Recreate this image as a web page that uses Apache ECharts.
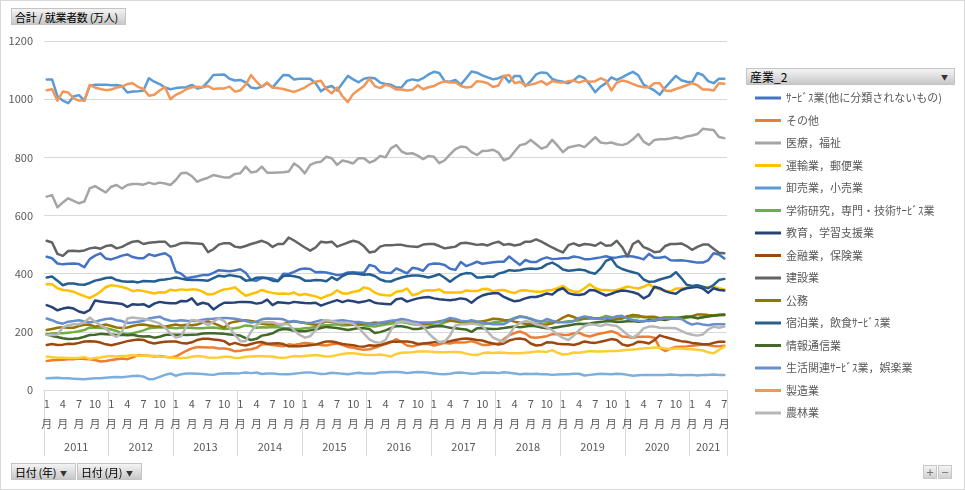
<!DOCTYPE html>
<html><head><meta charset="utf-8">
<script src="https://cdn.jsdelivr.net/npm/echarts@6/dist/echarts.min.js"></script>
<style>
html,body{margin:0;padding:0;background:#fff;}
#wrap{position:relative;width:965px;height:490px;overflow:hidden;font-family:"Noto Sans CJK JP","Noto Sans",sans-serif;}
#chart{position:absolute;left:0;top:0;width:965px;height:490px;}
#frame{position:absolute;left:0;top:0;width:965px;height:490px;box-sizing:border-box;border:1px solid #d9d9d9;pointer-events:none;}
.btn{position:absolute;height:17px;line-height:16px;font-size:11px;color:#000;background:linear-gradient(#f4f4f4,#c8c8c8);border:1px solid #c4c4c4;box-sizing:border-box;padding:0 3px;white-space:nowrap;overflow:hidden;}
.arr{font-size:7px;color:#333;margin-left:4px;vertical-align:1px;}
.pm{position:absolute;width:14px;height:14px;line-height:12px;font-size:13px;text-align:center;color:#777;background:linear-gradient(#f4f4f4,#d0d0d0);border:1px solid #c8c8c8;box-sizing:border-box;}
</style></head>
<body>
<div id="wrap">
<div id="chart"></div>
<div class="btn" style="left:11px;top:8px;width:115px;letter-spacing:-0.3px;">合計 / 就業者数 (万人)</div>
<div class="btn" style="left:746px;top:68px;width:209px;font-size:12px;">産業_2<span class="arr" style="position:absolute;right:6px;top:0;">▼</span></div>
<div class="btn" style="left:11px;top:463px;width:65px;letter-spacing:-0.3px;">日付 (年)<span class="arr">▼</span></div>
<div class="btn" style="left:77px;top:463px;width:65px;letter-spacing:-0.3px;">日付 (月)<span class="arr">▼</span></div>
<div class="pm" style="left:923px;top:465px;">+</div>
<div class="pm" style="left:938px;top:465px;">−</div>
<div id="frame"></div>
</div>
<script>
const yearLabels = ['2011','2012','2013','2014','2015','2016','2017','2018','2019','2020','2021'];
const monthsPerYear = [12,12,12,12,12,12,12,12,12,12,7];
const yAxisTicks = [0,200,400,600,800,1000,1200];

const seriesNames = [
 'ｻｰﾋﾞｽ業(他に分類されないもの)','その他','医療，福祉','運輸業，郵便業','卸売業，小売業',
 '学術研究，専門・技術ｻｰﾋﾞｽ業','教育，学習支援業','金融業，保険業','建設業','公務',
 '宿泊業，飲食ｻｰﾋﾞｽ業','情報通信業','生活関連ｻｰﾋﾞｽ業，娯楽業','製造業','農林業',
 '不動産業，物品賃貸業','複合ｻｰﾋﾞｽ事業'
];
const seriesColors = ['#4472C4','#ED7D31','#A5A5A5','#FFC000','#5B9BD5','#70AD47','#264478','#9E480E','#636363','#997300','#255E91','#43682B','#698ED0','#F1975A','#B7B7B7','#FFCD33','#7CAFDD'];

const service = [
458,453,435,432,434,435,433,422,450,462,470,452,
449,455,462,466,457,453,453,467,461,466,470,458,
407,400,384,388,391,395,395,403,412,410,408,411,
415,403,378,376,385,385,383,376,400,399,406,415,
418,416,405,406,404,400,395,397,404,405,403,403,
430,425,406,403,402,418,410,401,420,417,410,431,
435,434,430,417,413,440,426,433,441,434,437,439,
441,441,459,444,430,447,440,440,450,456,450,451,
453,453,459,456,450,450,453,456,460,455,456,459,
461,459,455,449,468,455,455,458,446,445,446,444,
441,438,438,446,470,466,452];
const other = [
100,102,103,104,106,106,108,107,106,103,98,100,
103,106,108,106,112,120,119,118,115,117,114,112,
115,125,135,143,148,147,146,146,143,143,140,133,
135,138,140,145,157,157,155,152,150,157,155,158,
162,160,157,155,153,157,160,155,148,145,141,138,
140,145,152,158,164,175,165,153,150,155,159,158,
153,157,162,160,164,163,164,168,162,155,155,158,
160,175,188,196,201,194,181,180,182,185,192,192,
190,189,195,197,188,184,190,194,198,202,196,184,
182,180,183,183,183,180,145,134,142,148,149,150,
152,154,156,155,151,150,152];
const medical = [
665,670,628,645,659,650,642,648,693,701,690,679,
699,705,693,705,708,708,706,713,708,713,710,705,
722,745,747,735,716,724,730,739,735,731,731,743,
745,768,748,751,768,747,747,748,749,751,779,766,
745,774,782,785,802,797,774,789,785,779,797,797,
782,789,805,800,831,842,820,812,814,806,794,805,
802,780,790,810,828,837,835,818,808,822,823,826,
816,790,797,820,842,846,860,845,830,837,860,840,
818,834,838,842,835,852,869,851,848,851,845,842,
848,862,880,854,843,860,862,862,865,869,865,872,
875,880,898,896,894,870,866];
const transport = [
364,364,350,344,342,338,330,323,316,326,338,354,
360,358,354,349,340,343,340,336,332,336,335,345,
342,346,344,346,345,338,328,330,339,346,348,353,
338,324,330,335,344,338,334,331,332,330,335,326,
330,326,322,315,323,329,343,332,332,338,340,353,
348,335,328,326,325,338,340,349,326,331,341,343,
342,346,335,335,335,335,342,340,340,347,348,339,
343,344,338,333,342,343,340,338,338,342,344,350,
358,345,338,338,350,364,350,344,344,342,344,349,
356,352,349,355,364,352,346,341,338,349,349,352,
355,360,349,354,355,350,346];
const wholesale = [
1068,1068,1010,995,986,1009,1014,995,1045,1050,1050,1050,
1048,1049,1045,1023,1026,1027,1030,1072,1060,1052,1040,1034,
1038,1040,1041,1049,1037,1041,1060,1083,1084,1085,1070,1064,
1066,1058,1040,1037,1043,1055,1040,1062,1083,1082,1068,1070,
1070,1070,1055,1027,1040,1045,1030,1055,1080,1068,1058,1070,
1074,1072,1057,1052,1050,1040,1041,1063,1068,1064,1072,1085,
1094,1090,1062,1060,1066,1050,1072,1095,1091,1082,1075,1068,
1072,1080,1058,1080,1080,1045,1062,1085,1092,1090,1070,1063,
1060,1055,1065,1080,1072,1050,1024,1043,1055,1075,1066,1075,
1085,1094,1082,1050,1040,1030,1015,1040,1060,1080,1065,1060,
1058,1090,1083,1062,1055,1070,1070];
const research = [
191,194,195,195,197,199,202,206,215,214,213,212,
208,203,195,193,195,200,205,212,214,216,215,214,
212,214,214,213,212,212,214,215,212,210,211,212,
216,222,220,214,216,215,217,216,213,212,210,210,
212,214,217,221,223,224,226,222,223,224,226,222,
220,218,222,225,228,232,234,230,226,224,225,225,
222,224,232,238,236,232,231,233,229,226,228,232,
235,236,240,248,254,250,245,239,236,235,235,233,
234,236,237,240,246,245,247,248,255,250,248,247,
249,252,250,253,248,248,247,250,250,249,248,251,
250,247,250,254,256,258,258];
const education = [
292,285,274,280,284,280,270,265,275,308,304,302,
300,298,296,286,295,293,295,286,297,303,300,298,
298,306,305,315,293,300,296,277,290,300,300,301,
303,303,302,297,300,311,292,302,300,298,303,301,
299,298,300,290,297,303,309,302,308,305,301,304,
309,300,297,296,295,312,315,304,310,315,318,320,
315,312,310,309,311,315,312,300,315,325,330,333,
333,320,312,305,308,315,320,320,325,332,328,343,
350,333,328,327,330,344,342,333,325,331,338,342,
340,336,330,315,325,355,350,340,334,331,344,350,
352,355,349,334,350,344,342];
const finance = [
155,158,155,156,159,158,162,167,168,167,163,157,
154,158,163,168,171,174,172,164,160,163,166,167,
167,162,160,164,172,176,176,174,172,168,156,162,
156,153,158,163,165,159,160,161,158,150,151,150,
152,154,156,162,167,167,163,158,156,154,150,149,
154,152,155,160,166,166,167,167,164,158,160,162,
164,164,166,168,172,175,177,175,172,170,164,160,
156,160,170,175,177,174,160,153,155,164,163,159,
157,157,155,160,167,163,162,166,170,175,172,157,
152,157,166,164,160,172,188,182,177,172,168,166,
162,160,157,157,162,166,166];
const construction = [
513,507,468,461,478,479,477,480,487,490,486,495,
498,487,492,502,510,512,502,506,508,510,510,493,
497,505,506,505,504,502,474,484,500,505,505,493,
490,495,502,507,513,506,492,502,502,524,514,502,
490,479,490,510,507,510,493,500,507,513,508,494,
473,476,493,498,498,499,499,495,493,492,500,502,
502,495,487,490,493,505,506,503,499,501,497,505,
510,499,502,497,500,510,510,518,510,500,490,481,
473,498,504,496,502,500,496,507,496,498,513,491,
459,502,513,491,484,474,476,495,502,502,504,495,
482,492,500,500,486,472,470];
const publicService = [
206,210,214,216,214,214,220,224,225,218,222,225,
220,215,213,215,220,224,225,222,219,218,218,222,
225,222,224,223,225,232,236,230,222,214,230,235,
238,240,237,234,228,225,225,225,226,233,236,233,
230,227,224,229,236,234,233,229,226,224,225,228,
229,232,230,232,236,238,241,236,233,230,228,228,
233,236,238,240,236,233,229,233,234,236,240,245,
244,241,240,235,231,228,228,228,226,225,229,238,
249,257,251,243,246,249,246,246,246,241,243,246,
254,258,256,250,252,252,247,248,247,246,244,249,
254,260,260,258,257,258,258];
const hospitality = [
387,390,376,360,366,366,363,362,368,376,380,385,
387,378,374,372,373,370,375,374,373,378,380,383,
387,383,379,378,378,377,376,385,393,390,395,392,
389,376,378,386,387,384,376,374,392,394,391,387,
376,376,378,377,374,388,378,392,400,401,399,396,
398,392,380,374,373,381,387,391,394,394,391,387,
392,398,386,372,386,397,402,401,387,387,390,389,
400,405,412,410,412,416,418,416,420,432,438,428,
414,410,412,414,412,404,400,418,444,452,426,416,
410,405,400,380,372,373,380,385,390,405,385,362,
358,360,355,350,361,378,382];
const infoComm = [
191,186,182,178,175,176,178,183,189,190,193,192,
191,189,190,188,190,186,184,185,180,183,189,191,
190,190,189,190,191,194,195,195,194,193,191,189,
187,178,172,176,187,190,195,205,210,208,204,202,
202,205,208,213,217,215,213,210,206,210,213,212,
210,196,199,205,213,220,219,216,210,210,213,215,
218,220,218,214,212,210,208,200,212,212,211,210,
211,213,216,218,216,218,221,219,215,212,213,216,
219,222,225,228,227,229,232,234,236,236,234,235,
236,237,235,236,241,238,243,241,245,247,250,253,
252,247,250,253,255,258,260];
const lifestyle = [
246,240,232,228,235,237,240,236,233,235,240,244,
246,240,237,230,232,235,238,246,249,252,243,238,
237,240,238,237,237,242,244,245,247,248,247,245,
242,237,232,235,243,246,245,245,243,235,237,234,
231,230,235,240,237,236,238,240,237,235,234,231,
229,226,231,235,238,240,244,241,236,233,232,232,
232,234,240,248,244,238,236,240,236,232,229,226,
226,226,237,246,252,250,244,237,235,244,238,234,
233,233,237,248,253,249,245,244,249,247,254,255,
245,241,238,237,237,240,244,246,246,246,245,233,
225,229,225,223,226,226,226];
const manufacturing = [
1031,1034,995,1026,1023,1003,995,995,1049,1040,1035,1031,
1033,1040,1043,1052,1055,1042,1035,1012,1015,1030,1042,1000,
1015,1023,1035,1041,1043,1041,1045,1035,1037,1037,1043,1026,
1030,1050,1083,1060,1042,1057,1040,1038,1035,1030,1025,1032,
1040,1052,1060,1063,1035,1020,1040,1010,990,1018,1032,1045,
1070,1045,1038,1050,1044,1033,1033,1030,1032,1048,1034,1041,
1045,1055,1061,1057,1058,1045,1040,1043,1062,1060,1055,1042,
1047,1080,1083,1055,1060,1048,1050,1055,1062,1050,1062,1058,
1057,1062,1064,1057,1064,1060,1062,1072,1064,1030,1057,1064,
1060,1052,1045,1041,1041,1055,1055,1030,1028,1035,1041,1048,
1055,1048,1033,1033,1030,1055,1053];
const agriculture = [
189,189,190,215,223,226,226,233,249,235,223,212,
191,183,200,246,249,247,245,241,235,229,215,195,
180,185,220,241,238,235,223,235,246,237,214,189,
168,168,200,223,233,233,233,227,227,226,205,190,
180,185,205,233,241,237,233,230,232,228,214,194,
174,165,162,172,206,232,236,234,229,226,219,195,
178,164,166,188,222,226,226,229,226,220,200,180,
172,167,190,218,230,237,234,226,222,215,206,190,
179,172,187,206,220,226,224,220,226,223,220,206,
190,180,192,212,218,218,214,213,213,212,203,195,
190,187,191,208,218,214,218];
const realEstate = [
115,113,111,111,110,110,111,113,107,110,112,115,
117,115,117,118,120,118,118,117,118,115,114,112,
110,110,111,114,117,115,112,111,112,114,114,110,
111,114,115,116,117,115,115,112,110,113,117,115,
117,119,120,118,115,116,120,124,126,126,124,121,
120,120,122,119,115,124,128,129,130,132,132,132,
131,130,130,131,131,130,125,121,120,126,129,127,
129,128,126,126,126,128,130,132,132,131,137,128,
122,124,129,128,131,134,132,132,133,134,134,136,
138,139,141,143,144,146,145,143,141,143,143,141,
140,138,136,130,126,138,149];
const compound = [
40,41,42,40,40,39,38,37,39,40,40,42,
44,45,44,46,48,49,46,37,38,45,52,57,
49,54,57,57,56,55,53,52,56,57,58,57,
58,60,58,60,55,57,57,55,54,54,56,58,
60,60,58,55,56,59,58,56,54,57,59,57,
57,57,60,61,62,62,61,58,60,62,61,59,
57,55,54,56,59,60,58,56,57,60,59,60,
58,61,59,57,54,56,55,56,54,54,52,53,
54,54,56,56,50,52,54,56,55,54,56,55,
52,49,51,52,52,52,52,52,53,52,51,52,
52,50,52,52,53,52,52];

const seriesData = [service,other,medical,transport,wholesale,research,education,finance,construction,publicService,hospitality,infoComm,lifestyle,manufacturing,agriculture,realEstate,compound];

const categories = [];
const yearBounds = [0];
const yearCenters = [];
let acc = 0;
yearLabels.forEach((y, k) => {
  for (let m = 1; m <= monthsPerYear[k]; m++) categories.push(y + '-' + m);
  yearCenters.push(acc + monthsPerYear[k] / 2);
  acc += monthsPerYear[k];
  yearBounds.push(acc);
});
const total = acc;

const FONT = '"Noto Sans CJK JP","Noto Sans",sans-serif';
const chart = echarts.init(document.getElementById('chart'), null, {renderer: 'canvas'});
chart.setOption({
  animation: false,
  textStyle: {fontFamily: FONT},
  grid: {left: 44, right: 238, top: 41, bottom: 100, containLabel: false},
  legend: {
    data: seriesNames.slice(0, 15),
    orient: 'vertical',
    left: 750, top: 86,
    icon: 'rect', itemWidth: 26, itemHeight: 3, itemGap: 8.5,
    textStyle: {fontSize: 11, color: '#595959', lineHeight: 14, fontFamily: FONT},
    selectedMode: false
  },
  xAxis: [
    {
      type: 'category', data: categories, boundaryGap: true,
      axisLine: {show: true, lineStyle: {color: '#d9d9d9', width: 1}},
      axisTick: {show: false},
      axisLabel: {
        interval: (i) => i % 3 === 0,
        formatter: (v) => v.split('-')[1] + '\n月',
        color: '#595959', fontSize: 11, lineHeight: 20, margin: 4, fontFamily: FONT
      },
      splitLine: {show: false}
    },
    {
      type: 'value', min: 0, max: total, position: 'bottom',
      axisLine: {show: false},
      axisTick: {show: true, customValues: yearBounds, length: 66, lineStyle: {color: '#d9d9d9', width: 1}},
      axisLabel: {
        customValues: yearCenters,
        formatter: (v) => yearLabels[Math.floor(v / 12)],
        color: '#595959', fontSize: 11, margin: 51, fontFamily: FONT
      },
      splitLine: {show: false}
    }
  ],
  yAxis: {
    type: 'value', min: 0, max: 1200, interval: 200,
    axisLine: {show: false}, axisTick: {show: false},
    axisLabel: {color: '#595959', fontSize: 11, margin: 11, fontFamily: FONT, formatter: (v) => String(v)},
    splitLine: {lineStyle: {color: '#d9d9d9', width: 1}}
  },
  series: seriesNames.map((n, i) => ({
    name: n, type: 'line', data: seriesData[i], xAxisIndex: 0,
    symbol: 'none', showSymbol: false,
    lineStyle: {width: 2.5, color: seriesColors[i], join: 'round', cap: 'round'},
    itemStyle: {color: seriesColors[i]},
    emphasis: {disabled: true}
  }))
});
</script>
</body></html>
